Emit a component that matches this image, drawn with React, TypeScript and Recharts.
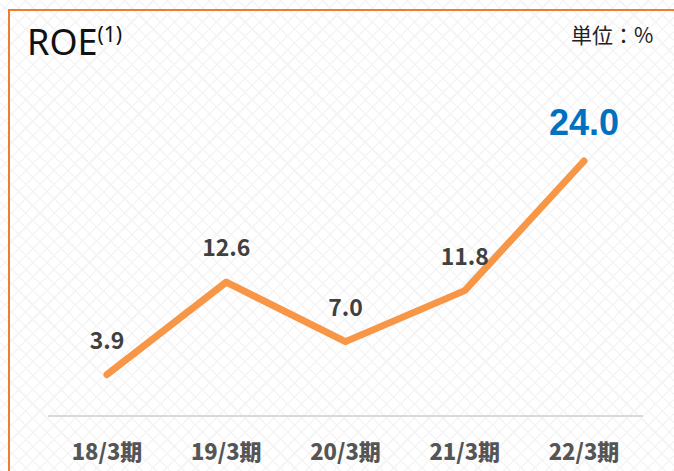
import { LineChart, Line, XAxis, YAxis, LabelList } from "recharts";

const periods = ["18/3期", "19/3期", "20/3期", "21/3期", "22/3期"];
const roeValues = [3.9, 12.6, 7.0, 11.8, 24.0];

const chartData = periods.map((period, i) => ({ period, roe: roeValues[i] }));

const jpFont = "'Noto Sans CJK JP', 'Noto Sans', sans-serif";

// last point is highlighted in blue and bigger
const renderValueLabel = (props: any) => {
  const { x, y, value, index } = props;
  const isLast = index === roeValues.length - 1;
  return (
    <text
      x={x}
      y={y - 26}
      textAnchor="middle"
      fontFamily={isLast ? "'Liberation Sans', Arial, sans-serif" : jpFont}
      fontWeight="bold"
      fontSize={isLast ? 36 : 23}
      fill={isLast ? "#0070C0" : "#404040"}
    >
      {Number(value).toFixed(1)}
    </text>
  );
};

const App = () => {
  return (
    <div
      style={{
        position: "absolute",
        left: 0,
        top: 0,
        width: 674,
        height: 471,
        overflow: "hidden",
        background: "#ffffff",
        backgroundImage:
          "repeating-linear-gradient(45deg, #f5f5f5 0 1.5px, transparent 1.5px 10px), repeating-linear-gradient(-45deg, #f5f5f5 0 1.5px, transparent 1.5px 10px)",
      }}
    >
      {/* orange frame, top and left only */}
      <div
        style={{
          position: "absolute",
          left: 8,
          top: 9,
          width: 700,
          height: 500,
          borderTop: "2px solid #ED7D31",
          borderLeft: "2px solid #ED7D31",
        }}
      />
      <div
        style={{
          position: "absolute",
          left: 27,
          top: 18,
          fontFamily: "'Noto Sans', sans-serif",
          fontSize: 36,
          color: "#111",
          lineHeight: "48px",
          whiteSpace: "nowrap",
        }}
      >
        ROE
        <span style={{ fontSize: 21, verticalAlign: "top", position: "relative", top: -8 }}>(1)</span>
      </div>
      <div
        style={{
          position: "absolute",
          left: 571,
          top: 20,
          fontFamily: jpFont,
          fontSize: 21,
          color: "#222",
          lineHeight: "28px",
        }}
      >
        単位：%
      </div>
      <LineChart
        width={674}
        height={471}
        data={chartData}
        margin={{ top: 161, right: 31, left: 48, bottom: 0 }}
        style={{ position: "absolute", left: 0, top: 0 }}
      >
        <XAxis
          dataKey="period"
          height={55}
          padding={{ left: 59, right: 59 }}
          axisLine={{ stroke: "#d9d9d9", strokeWidth: 2 }}
          tickLine={false}
          tickMargin={22}
          tick={{ fill: "#555555", fontSize: 22, fontWeight: 900, fontFamily: jpFont }}
        />
        <YAxis hide domain={[0, 24]} />
        <Line
          type="linear"
          dataKey="roe"
          stroke="#F79646"
          strokeWidth={7}
          strokeLinecap="round"
          strokeLinejoin="round"
          dot={false}
          activeDot={false}
          isAnimationActive={false}
        >
          <LabelList dataKey="roe" content={renderValueLabel} />
        </Line>
      </LineChart>
    </div>
  );
};

export default App;
